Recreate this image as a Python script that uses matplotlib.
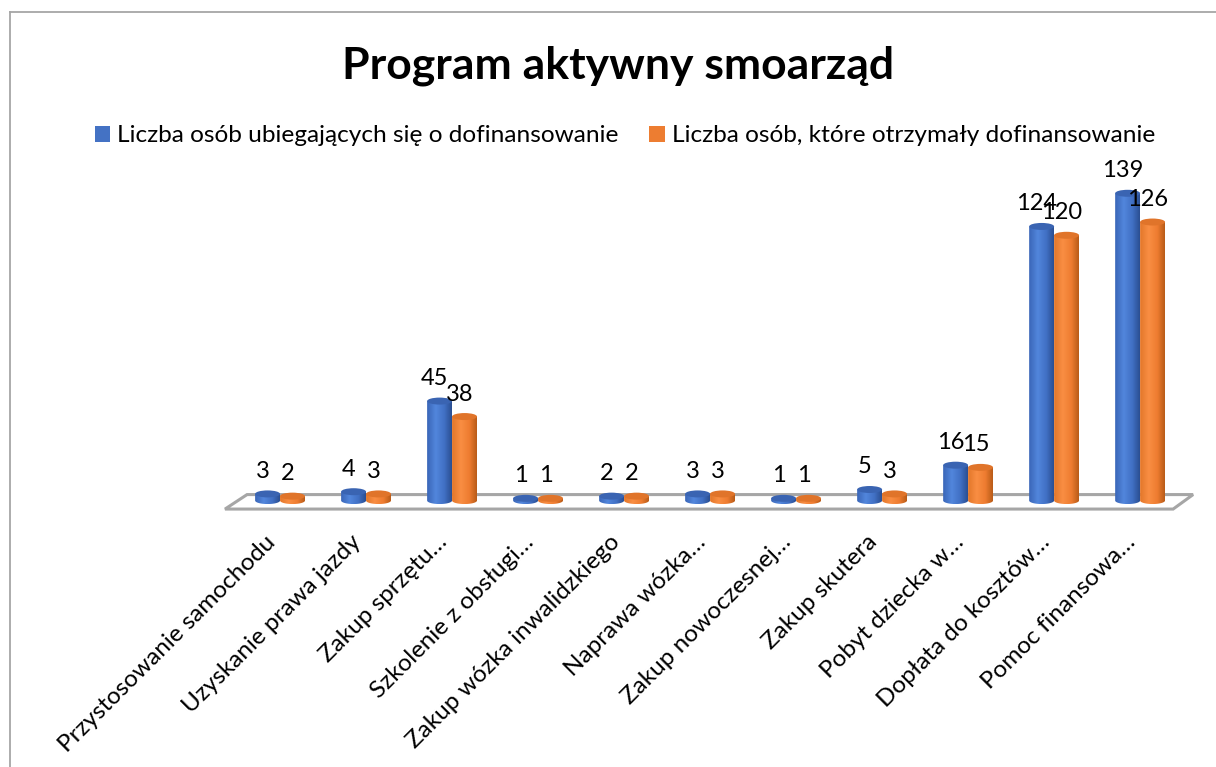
import numpy as np
import matplotlib
matplotlib.use('Agg')
import matplotlib.pyplot as plt
from matplotlib.colors import LinearSegmentedColormap
from matplotlib.patches import Ellipse, Polygon, PathPatch, Patch
from matplotlib.path import Path
from matplotlib.lines import Line2D
from matplotlib.transforms import ScaledTranslation

# ---- data ----
categories = [
    "Przystosowanie samochodu",
    "Uzyskanie prawa jazdy",
    "Zakup sprzętu…",
    "Szkolenie z obsługi…",
    "Zakup wózka inwalidzkiego",
    "Naprawa wózka…",
    "Zakup nowoczesnej…",
    "Zakup skutera",
    "Pobyt dziecka w…",
    "Dopłata do kosztów…",
    "Pomoc finansowa…",
]
applicants = [3, 4, 45, 1, 2, 3, 1, 5, 16, 124, 139]
recipients = [2, 3, 38, 1, 2, 3, 1, 3, 15, 120, 126]
series_names = [
    "Liczba osób ubiegających się o dofinansowanie",
    "Liczba osób, które otrzymały dofinansowanie",
]
title = "Program aktywny smoarząd"

plt.rcParams['font.family'] = ['Lato', 'DejaVu Sans']

BLUE = '#4472C4'
ORANGE = '#ED7D31'
blue_cmap = LinearSegmentedColormap.from_list(
    'b', [(0, '#3A66B8'), (0.35, '#5286DC'), (0.7, '#4170C4'), (1, '#2B4F92')])
orange_cmap = LinearSegmentedColormap.from_list(
    'o', [(0, '#E3772A'), (0.35, '#F98E43'), (0.7, '#EE7C30'), (1, '#B95C18')])
blue_top = '#3A64B2'
orange_top = '#E0742A'

W, H = 1216, 767
fig = plt.figure(figsize=(W / 100, H / 100), dpi=100)
ax = fig.add_axes([0.1808, 0.3301, 0.8063, 0.4496])

# floor
floor = Polygon([(-0.64, -3.85), (-0.384, 2.7), (10.616, 2.7), (10.384, -3.85)],
                closed=True, facecolor='white', edgecolor='#A6A6A6', lw=2.2, zorder=1)
ax.add_patch(floor)

bw = 0.29
hh = 1.58


def cylinder(xc, v, cmap, topcolor, z):
    x0, x1 = xc - bw / 2, xc + bw / 2
    t = np.linspace(np.pi, 2 * np.pi, 40)
    arc = np.column_stack([xc + bw / 2 * np.cos(t), hh * np.sin(t)])
    verts = np.vstack([[x0, v], arc, [x1, v], [x0, v]])
    patch = PathPatch(Path(verts, closed=True), facecolor='none', edgecolor='none')
    ax.add_patch(patch)
    grad = np.linspace(0, 1, 64).reshape(1, -1)
    im = ax.imshow(grad, cmap=cmap, extent=(x0, x1, -hh, v), aspect='auto',
                   zorder=z, interpolation='bilinear')
    im.set_clip_path(patch)
    ax.add_patch(Ellipse((xc, v), bw, 2 * hh, facecolor=topcolor,
                         edgecolor='none', zorder=z + 0.1))


for i, (a, r) in enumerate(zip(applicants, recipients)):
    cylinder(i - bw / 2, a, blue_cmap, blue_top, 3)
    cylinder(i + bw / 2, r, orange_cmap, orange_top, 3)
    ax.annotate(str(a), xy=(i - bw / 2, a), xytext=(-5, 16), textcoords='offset pixels',
                ha='center', va='baseline', fontsize=17, color='black', zorder=6)
    ax.annotate(str(r), xy=(i + bw / 2, r), xytext=(-5, 16), textcoords='offset pixels',
                ha='center', va='baseline', fontsize=17, color='black', zorder=6)

ax.set_xlim(-0.7, 10.7)
ax.set_ylim(-6, 150)
ax.set_aspect('auto')
ax.set_xticks(range(len(categories)))
ax.set_xticklabels(categories, rotation=45, ha='right', va='center',
                   rotation_mode='anchor', fontsize=17.5)
ax.tick_params(axis='x', length=0, pad=18)
shift = ScaledTranslation(-8 / 100, 0, fig.dpi_scale_trans)
for lab in ax.get_xticklabels():
    lab.set_transform(lab.get_transform() + shift)
ax.set_yticks([])
for s in ax.spines.values():
    s.set_visible(False)
ax.patch.set_alpha(0)

fig.text(618 / W, 1 - 78 / H, title, ha='center', va='baseline',
         fontsize=32, fontweight='bold')

fig.legend(handles=[Patch(facecolor=BLUE), Patch(facecolor=ORANGE)],
           labels=series_names, loc='center', bbox_to_anchor=(0.514, 0.823),
           ncol=2, frameon=False, fontsize=17.6, handlelength=0.62,
           handleheight=0.62, handletextpad=0.3, columnspacing=1.25)

# chart border
fig.add_artist(Line2D([10 / W, 10 / W], [0, 1 - 12 / H], color='#A6A6A6', lw=1.3,
                      transform=fig.transFigure))
fig.add_artist(Line2D([10 / W, 1], [1 - 12 / H, 1 - 12 / H], color='#A6A6A6', lw=1.3,
                      transform=fig.transFigure))

fig.savefig('out.png', dpi=100, facecolor='white')
